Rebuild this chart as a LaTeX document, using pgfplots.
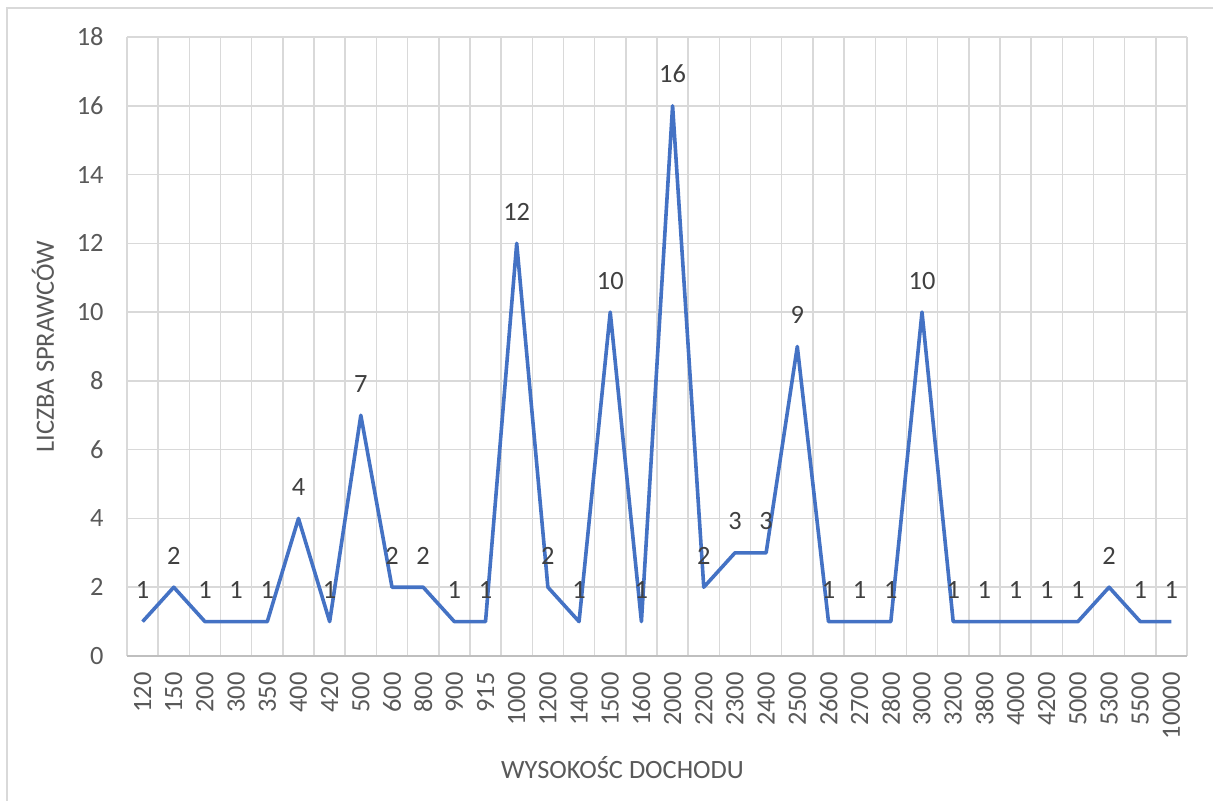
\documentclass[border=0pt]{standalone}
\usepackage{pgfplots}
\pgfplotsset{compat=1.18}
\usepackage{fontspec}
\setmainfont{Carlito}
\definecolor{lineblue}{HTML}{4472C4}
\definecolor{gridgray}{HTML}{D9D9D9}
\definecolor{axisgray}{HTML}{BFBFBF}
\definecolor{ticktext}{HTML}{595959}
\definecolor{labeltext}{HTML}{404040}
\begin{document}
\begin{tikzpicture}
\path[use as bounding box] (0,0) rectangle (606.5pt,400.5pt);
\draw[gridgray, line width=0.8pt] (3.5pt,-2pt) -- (3.5pt,396.5pt) -- (610pt,396.5pt);
\begin{axis}[
  at={(63.5pt,72.5pt)}, anchor=south west,
  scale only axis, width=530pt, height=309.5pt,
  /pgf/number format/assume math mode=true,
  font=\fontsize{13.2}{15}\selectfont,
  xmin=-0.5, xmax=33.5, ymin=0, ymax=18,
  xtick={0,...,33},
  xticklabels={120,150,200,300,350,400,420,500,600,800,900,915,1000,1200,1400,1500,1600,2000,2200,2300,2400,2500,2600,2700,2800,3000,3200,3800,4000,4200,5000,5300,5500,10000},
  minor xtick={-0.5,0.5,1.5,2.5,3.5,4.5,5.5,6.5,7.5,8.5,9.5,10.5,11.5,12.5,13.5,14.5,15.5,16.5,17.5,18.5,19.5,20.5,21.5,22.5,23.5,24.5,25.5,26.5,27.5,28.5,29.5,30.5,31.5,32.5,33.5},
  ytick={0,2,4,6,8,10,12,14,16,18},
  major tick length=0pt, minor tick length=0pt,
  xmajorgrids=false, xminorgrids=true, ymajorgrids=true,
  grid style={gridgray, line width=0.75pt},
  minor grid style={gridgray, line width=0.75pt},
  axis line style={draw=none},
  extra y ticks={0}, extra y tick labels={},
  extra y tick style={grid style={axisgray, line width=0.9pt}},
  xticklabel style={rotate=90, anchor=east, inner sep=0pt, text=ticktext},
  xticklabel shift=8pt,
  yticklabel style={inner sep=0pt, anchor=east, text=ticktext},
  yticklabel shift=11.5pt,
  xlabel={WYSOKOŚC DOCHODU},
  xlabel style={at={(axis description cs:0.4675,-0.181)}, anchor=center, text=ticktext},
  ylabel={LICZBA SPRAWCÓW},
  ylabel style={at={(axis description cs:-0.0792,0.5)}, anchor=center, text=ticktext},
  nodes near coords,
  every node near coord/.append style={anchor=base, inner sep=0pt, yshift=11.5pt, text=labeltext, font=\fontsize{13.2}{15}\selectfont},
  clip=false,
]
\addplot[lineblue, line width=1.8pt, line join=round, mark=none] coordinates {
(0,1) (1,2) (2,1) (3,1) (4,1) (5,4) (6,1) (7,7) (8,2) (9,2) (10,1) (11,1)
(12,12) (13,2) (14,1) (15,10) (16,1) (17,16) (18,2) (19,3) (20,3) (21,9)
(22,1) (23,1) (24,1) (25,10) (26,1) (27,1) (28,1) (29,1) (30,1) (31,2) (32,1) (33,1)
};
\end{axis}
\end{tikzpicture}
\end{document}
